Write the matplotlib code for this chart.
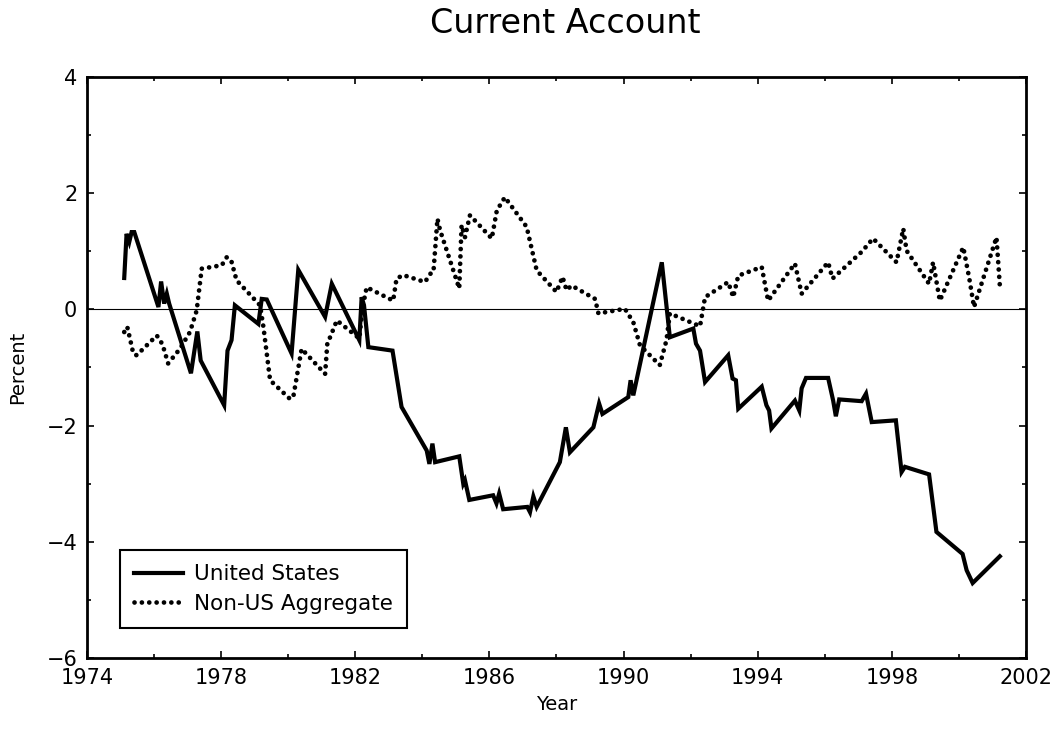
import numpy as np
import matplotlib
matplotlib.use("Agg")
import matplotlib.pyplot as plt
from matplotlib.ticker import MultipleLocator

# United States current account (percent), vertices
us_year = [1975.11, 1975.18, 1975.26, 1975.33, 1975.41, 1976.13, 1976.21, 1976.30,
           1976.38, 1976.45, 1977.10, 1977.29, 1977.39, 1978.09, 1978.19, 1978.31,
           1978.41, 1979.11, 1979.21, 1979.36, 1980.10, 1980.30, 1981.10, 1981.30,
           1982.12, 1982.19, 1982.26, 1982.39, 1983.11, 1983.38, 1984.13, 1984.21,
           1984.30, 1984.38, 1985.10, 1985.22, 1985.27, 1985.40, 1986.11, 1986.21,
           1986.29, 1986.41, 1987.13, 1987.21, 1987.31, 1987.41, 1988.10, 1988.28,
           1988.40, 1989.10, 1989.27, 1989.37, 1990.14, 1990.21, 1990.29, 1991.14,
           1991.38, 1992.08, 1992.16, 1992.28, 1992.43, 1993.12, 1993.25, 1993.35,
           1993.42, 1994.12, 1994.26, 1994.34, 1994.41, 1995.11, 1995.24, 1995.31,
           1995.44, 1996.10, 1996.25, 1996.33, 1996.43, 1997.10, 1997.23, 1997.40,
           1998.12, 1998.29, 1998.39, 1999.11, 1999.33, 2000.11, 2000.23, 2000.41,
           2001.22]
us_value = [0.54, 1.30, 1.16, 1.33, 1.33, 0.04, 0.48, 0.10,
            0.27, 0.10, -1.10, -0.38, -0.88, -1.65, -0.71, -0.53,
            0.07, -0.25, 0.18, 0.17, -0.76, 0.68, -0.13, 0.44,
            -0.53, 0.21, 0.07, -0.65, -0.71, -1.68, -2.43, -2.66,
            -2.31, -2.63, -2.53, -3.00, -2.94, -3.28, -3.20, -3.34,
            -3.17, -3.44, -3.40, -3.49, -3.22, -3.40, -2.63, -2.03,
            -2.46, -2.03, -1.62, -1.80, -1.51, -1.22, -1.48, 0.81,
            -0.48, -0.33, -0.59, -0.71, -1.25, -0.79, -1.19, -1.22,
            -1.71, -1.33, -1.65, -1.74, -2.05, -1.57, -1.74, -1.36,
            -1.18, -1.18, -1.57, -1.84, -1.55, -1.58, -1.45, -1.94,
            -1.91, -2.80, -2.71, -2.84, -3.83, -4.21, -4.49, -4.71,
            -4.25]

# Non-US aggregate current account (percent)
nonus_year = [1975.11, 1975.20, 1975.28, 1975.38, 1975.48, 1976.08, 1976.18, 1976.26,
              1976.42, 1976.77, 1977.07, 1977.27, 1977.42, 1978.02, 1978.17, 1978.31,
              1978.46, 1979.16, 1979.26, 1979.46, 1980.05, 1980.15, 1980.40, 1981.10,
              1981.17, 1981.25, 1981.45, 1982.12, 1982.22, 1982.34, 1983.13, 1983.23,
              1983.43, 1984.08, 1984.23, 1984.33, 1984.45, 1984.53, 1985.10, 1985.17,
              1985.27, 1985.42, 1986.07, 1986.22, 1986.46, 1987.11, 1987.41, 1988.00,
              1988.18, 1988.30, 1988.45, 1989.15, 1989.25, 1990.04, 1990.29, 1990.49,
              1991.08, 1991.28, 1991.38, 1992.28, 1992.43, 1993.12, 1993.27, 1993.42,
              1994.12, 1994.31, 1995.11, 1995.31, 1996.10, 1996.23, 1997.10, 1997.44,
              1998.14, 1998.34, 1998.44, 1999.11, 1999.23, 1999.43, 2000.13, 2000.31,
              2000.45, 2001.12, 2001.22]
nonus_value = [-0.39, -0.30, -0.50, -0.76, -0.79, -0.45, -0.53, -0.62,
               -0.93, -0.68, -0.39, -0.02, 0.70, 0.76, 0.90, 0.82,
               0.50, 0.07, -0.30, -1.22, -1.54, -1.51, -0.68, -1.11,
               -0.56, -0.48, -0.19, -0.50, 0.04, 0.38, 0.15, 0.53,
               0.59, 0.47, 0.61, 0.64, 1.56, 1.36, 0.36, 1.45,
               1.24, 1.62, 1.22, 1.70, 1.93, 1.42, 0.67, 0.30,
               0.56, 0.33, 0.41, 0.18, -0.07, 0.01, -0.22, -0.62,
               -0.96, -0.53, -0.07, -0.29, 0.21, 0.47, 0.21, 0.58,
               0.73, 0.15, 0.79, 0.27, 0.81, 0.53, 0.99, 1.22,
               0.81, 1.39, 1.01, 0.44, 0.81, 0.15, 1.07, 0.53,
               0.04, 1.24, 0.41]

x_ticks = [1974, 1978, 1982, 1986, 1990, 1994, 1998, 2002]
y_ticks = [-6, -4, -2, 0, 2, 4]

fig = plt.figure(figsize=(10.61, 7.31), dpi=100)
ax = fig.add_axes([0.082, 0.0999, 0.885, 0.7948])

ax.axhline(0, color="black", linewidth=0.8, zorder=1)
ax.plot(us_year, us_value, color="black", linewidth=3.0,
        solid_joinstyle="miter", label="United States", zorder=3)
ax.plot(nonus_year, nonus_value, color="black", linewidth=3.4,
        linestyle=(0, (0.01, 1.55)), dash_capstyle="round",
        label="Non-US Aggregate", zorder=2)

ax.set_xlim(1974, 2002)
ax.set_ylim(-6, 4)
ax.set_xticks(x_ticks)
ax.set_yticks(y_ticks)
ax.xaxis.set_minor_locator(MultipleLocator(2))
ax.yaxis.set_minor_locator(MultipleLocator(1))
ax.tick_params(which="both", direction="in", top=True, right=True, width=1.2)
ax.tick_params(which="major", length=5, pad=7, labelsize=15)
ax.tick_params(which="minor", length=3)
for sp in ax.spines.values():
    sp.set_linewidth(2)

ax.set_xlabel("Year", fontsize=14, labelpad=5)
ax.set_ylabel("Percent", fontsize=14, labelpad=14)
fig.text(0.533, 0.968, "Current Account", fontsize=24, ha="center", va="center")

leg = ax.legend(loc="lower left", bbox_to_anchor=(0.035, 0.052), borderaxespad=0,
                fontsize=15.5, handlelength=2.3, handletextpad=0.5, borderpad=0.65,
                labelspacing=0.45, fancybox=False, framealpha=1)
leg.get_frame().set_edgecolor("black")
leg.get_frame().set_linewidth(1.5)

fig.savefig("out.png", dpi=100)
